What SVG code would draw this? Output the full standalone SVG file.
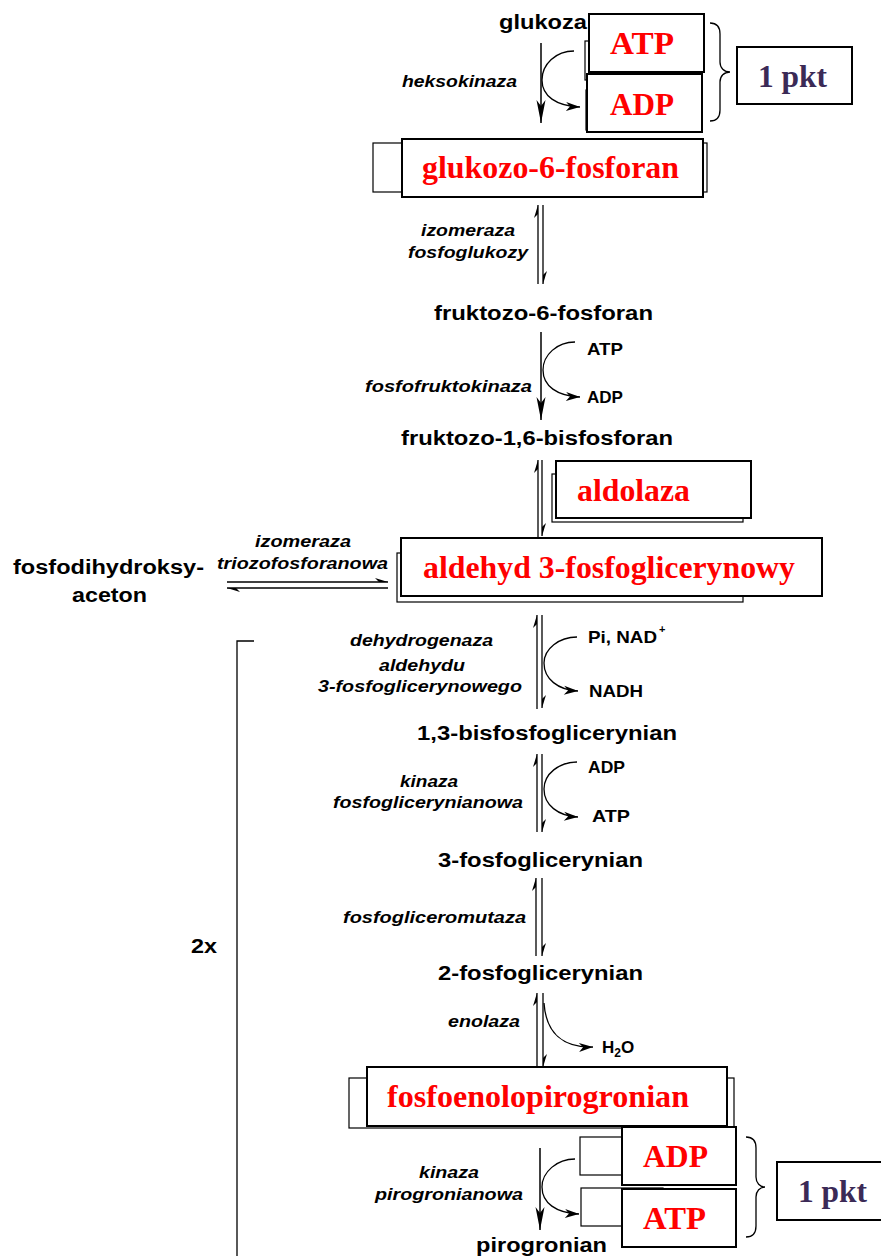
<svg xmlns="http://www.w3.org/2000/svg" width="881" height="1256" viewBox="0 0 881 1256">
<defs>
<style>
.m{font-family:"Liberation Sans",Arial,sans-serif;font-weight:bold;font-size:20px;fill:#000}
.e{font-family:"Liberation Sans",Arial,sans-serif;font-weight:bold;font-style:italic;font-size:16.5px;fill:#000}
.s{font-family:"Liberation Sans",Arial,sans-serif;font-weight:bold;font-size:16.5px;fill:#000}
.r{font-family:"Liberation Serif","Times New Roman",serif;font-weight:bold;font-size:32px;fill:#ff0000}
.p{font-family:"Liberation Serif","Times New Roman",serif;font-weight:bold;font-size:32px;fill:#3b2a56}
.fb{fill:#fff;stroke:#000;stroke-width:2}
.bb{fill:#fff;stroke:#000;stroke-width:1.2}
.ln{fill:none;stroke:#000;stroke-width:1.3}
.mn{fill:none;stroke:#000;stroke-width:1.5}
</style>
<marker id="big" viewBox="-24 -6 25 12" refX="0" refY="0" markerWidth="25" markerHeight="12" markerUnits="userSpaceOnUse" orient="auto">
<path d="M0,0 L-23,-4.5 L-17,0 L-23,4.5 Z" fill="#000"/>
</marker>
<marker id="hd" viewBox="-15 -6 16 12" refX="0" refY="0" markerWidth="16" markerHeight="12" markerUnits="userSpaceOnUse" orient="auto">
<path d="M0,0 L-14,-4.5 L-10,0 L-14,4.5 Z" fill="#000"/>
</marker>
<marker id="hp" viewBox="-15 -6 16 12" refX="0" refY="0" markerWidth="16" markerHeight="12" markerUnits="userSpaceOnUse" orient="auto">
<path d="M0,0 L-13,-4 L-9,0 Z" fill="#000"/>
</marker>
</defs>
<rect width="881" height="1256" fill="#fff"/>

<g id="connectors">
<path class="mn" d="M541,43 L541,123" marker-end="url(#big)"/>
<path class="ln" d="M574,51 C556,51 542,64 542,80 C542,96 556,106 580,107" marker-end="url(#hd)"/>
<path class="ln" d="M538,284 L538,205" marker-end="url(#hp)"/>
<path class="ln" d="M543,205 L543,284" marker-end="url(#hp)"/>
<path class="mn" d="M541,332 L541,420" marker-end="url(#big)"/>
<path class="ln" d="M575,342 C557,342 543,355 543,370 C543,386 557,396 580,397" marker-end="url(#hd)"/>
<path class="ln" d="M538,537 L538,460" marker-end="url(#hp)"/>
<path class="ln" d="M542,460 L542,536" marker-end="url(#hp)"/>
<path class="ln" d="M227,582 L388,582" marker-end="url(#hp)"/>
<path class="ln" d="M388,588 L227,588" marker-end="url(#hp)"/>
<path class="ln" d="M537,709 L537,615" marker-end="url(#hp)"/>
<path class="ln" d="M542,615 L542,708" marker-end="url(#hp)"/>
<path class="ln" d="M577,637 C559,637 544,649 544,663 C544,679 558,690 578,691" marker-end="url(#hd)"/>
<path class="ln" d="M537,832 L537,754" marker-end="url(#hp)"/>
<path class="ln" d="M542,754 L542,832" marker-end="url(#hp)"/>
<path class="ln" d="M577,762 C559,762 544,774 544,789 C544,805 558,816 578,817" marker-end="url(#hd)"/>
<path class="ln" d="M536,956 L536,878" marker-end="url(#hp)"/>
<path class="ln" d="M542,878 L542,956" marker-end="url(#hp)"/>
<path class="ln" d="M537,1067 L537,993" marker-end="url(#hp)"/>
<path class="ln" d="M543,993 L543,1067" marker-end="url(#hp)"/>
<path class="ln" d="M544,1003 C546,1033 563,1048 593,1047" marker-end="url(#hd)"/>
<path class="mn" d="M540,1148 L540,1230" marker-end="url(#big)"/>
<path class="ln" d="M575,1159 C557,1159 542,1172 542,1187 C542,1203 556,1213 579,1214" marker-end="url(#hd)"/>
<path class="ln" d="M710,23 C717,23 720,27 720,34 L720,62 C720,68 724,72 730,72 C724,72 720,76 720,82 L720,110 C720,117 717,121 710,121"/>
<path class="ln" d="M746,1137 C753,1137 756,1141 756,1148 L756,1177 C756,1183 760,1187 765,1187 C760,1187 756,1191 756,1197 L756,1226 C756,1233 753,1237 746,1237"/>
<path class="ln" d="M254,641 L237,641 L237,1256"/>
</g>

<g id="glukoza"><text class="m" x="499" y="29" textLength="88" lengthAdjust="spacingAndGlyphs">glukoza</text></g>
<g id="atp1"><rect class="bb" x="585" y="41" width="110" height="39"/><rect class="fb" x="589" y="14" width="115" height="58"/><text class="r" x="610" y="54" textLength="64" lengthAdjust="spacingAndGlyphs">ATP</text></g>
<g id="adp1"><rect class="bb" x="586" y="90" width="110" height="40"/><rect class="fb" x="587" y="74" width="115" height="58"/><text class="r" x="610" y="115" textLength="64" lengthAdjust="spacingAndGlyphs">ADP</text></g>
<g id="pkt1"><rect class="fb" x="737" y="47" width="115" height="57"/><text class="p" x="758" y="87" textLength="69" lengthAdjust="spacingAndGlyphs">1 pkt</text></g>
<g id="e-heksokinaza"><text class="e" x="402" y="87" textLength="115" lengthAdjust="spacingAndGlyphs">heksokinaza</text></g>
<g id="g6p"><rect class="bb" x="373" y="143" width="334" height="49"/><rect class="fb" x="402" y="139" width="301" height="58"/><text class="r" x="422" y="178" textLength="257" lengthAdjust="spacingAndGlyphs">glukozo-6-fosforan</text></g>
<g id="e-izomeraza1"><text class="e" x="421" y="236" textLength="94" lengthAdjust="spacingAndGlyphs">izomeraza</text><text class="e" x="408" y="258" textLength="120" lengthAdjust="spacingAndGlyphs">fosfoglukozy</text></g>
<g id="f6p"><text class="m" x="434" y="320" textLength="219" lengthAdjust="spacingAndGlyphs">fruktozo-6-fosforan</text></g>
<g id="atp2"><text class="s" x="587" y="355" textLength="36" lengthAdjust="spacingAndGlyphs">ATP</text><text class="s" x="587" y="403" textLength="36" lengthAdjust="spacingAndGlyphs">ADP</text></g>
<g id="e-pfk"><text class="e" x="365" y="392" textLength="167" lengthAdjust="spacingAndGlyphs">fosfofruktokinaza</text></g>
<g id="f16bp"><text class="m" x="401" y="445" textLength="272" lengthAdjust="spacingAndGlyphs">fruktozo-1,6-bisfosforan</text></g>
<g id="aldolaza"><rect class="bb" x="552" y="474" width="191" height="48"/><rect class="fb" x="556" y="461" width="195" height="57"/><text class="r" x="577" y="501" textLength="113" lengthAdjust="spacingAndGlyphs">aldolaza</text></g>
<g id="gap"><rect class="bb" x="397" y="553" width="346" height="49"/><rect class="fb" x="401" y="538" width="421" height="58"/><text class="r" x="423" y="578" textLength="372" lengthAdjust="spacingAndGlyphs">aldehyd 3-fosfoglicerynowy</text></g>
<g id="e-tpi"><text class="e" x="255" y="547" textLength="96" lengthAdjust="spacingAndGlyphs">izomeraza</text><text class="e" x="217" y="569" textLength="171" lengthAdjust="spacingAndGlyphs">triozofosforanowa</text></g>
<g id="dhap"><text class="m" x="13" y="574" textLength="191" lengthAdjust="spacingAndGlyphs">fosfodihydroksy-</text><text class="m" x="72" y="602" textLength="75" lengthAdjust="spacingAndGlyphs">aceton</text></g>
<g id="e-gapdh"><text class="e" x="350" y="646" textLength="143" lengthAdjust="spacingAndGlyphs">dehydrogenaza</text><text class="e" x="379" y="671" textLength="86" lengthAdjust="spacingAndGlyphs">aldehydu</text><text class="e" x="318" y="692" textLength="204" lengthAdjust="spacingAndGlyphs">3-fosfoglicerynowego</text></g>
<g id="nad"><text class="s" x="588" y="643" textLength="69" lengthAdjust="spacingAndGlyphs">Pi, NAD</text><text class="s" x="659" y="633" style="font-size:11px">+</text><text class="s" x="589" y="697" textLength="54" lengthAdjust="spacingAndGlyphs">NADH</text></g>
<g id="bpg"><text class="m" x="417" y="740" textLength="260" lengthAdjust="spacingAndGlyphs">1,3-bisfosfoglicerynian</text></g>
<g id="atp3"><text class="s" x="588" y="773" textLength="37" lengthAdjust="spacingAndGlyphs">ADP</text><text class="s" x="592" y="822" textLength="38" lengthAdjust="spacingAndGlyphs">ATP</text></g>
<g id="e-pgk"><text class="e" x="400" y="787" textLength="58" lengthAdjust="spacingAndGlyphs">kinaza</text><text class="e" x="333" y="808" textLength="190" lengthAdjust="spacingAndGlyphs">fosfoglicerynianowa</text></g>
<g id="pg3"><text class="m" x="438" y="867" textLength="205" lengthAdjust="spacingAndGlyphs">3-fosfoglicerynian</text></g>
<g id="e-pgm"><text class="e" x="343" y="923" textLength="183" lengthAdjust="spacingAndGlyphs">fosfogliceromutaza</text></g>
<g id="x2"><text class="m" x="191" y="953" textLength="26" lengthAdjust="spacingAndGlyphs">2x</text></g>
<g id="pg2"><text class="m" x="438" y="980" textLength="205" lengthAdjust="spacingAndGlyphs">2-fosfoglicerynian</text></g>
<g id="e-enolaza"><text class="e" x="448" y="1027" textLength="72" lengthAdjust="spacingAndGlyphs">enolaza</text></g>
<g id="h2o"><text class="s" x="602" y="1053" style="font-size:17px">H<tspan dy="4" style="font-size:12px">2</tspan><tspan dy="-4">O</tspan></text></g>
<g id="pep"><rect class="bb" x="349" y="1078" width="385" height="50"/><rect class="fb" x="367" y="1067" width="360" height="59"/><text class="r" x="387" y="1107" textLength="302" lengthAdjust="spacingAndGlyphs">fosfoenolopirogronian</text></g>
<g id="adp4"><rect class="bb" x="580" y="1137" width="100" height="38"/><rect class="fb" x="622" y="1127" width="114" height="58"/><text class="r" x="643" y="1167" textLength="65" lengthAdjust="spacingAndGlyphs">ADP</text></g>
<g id="atp4"><rect class="bb" x="581" y="1188" width="82" height="38"/><rect class="fb" x="622" y="1189" width="114" height="58"/><text class="r" x="643" y="1229" textLength="63" lengthAdjust="spacingAndGlyphs">ATP</text></g>
<g id="pkt2"><rect class="fb" x="777" y="1162" width="110" height="58"/><text class="p" x="798" y="1202" textLength="69" lengthAdjust="spacingAndGlyphs">1 pkt</text></g>
<g id="e-pk"><text class="e" x="419" y="1178" textLength="60" lengthAdjust="spacingAndGlyphs">kinaza</text><text class="e" x="375" y="1200" textLength="148" lengthAdjust="spacingAndGlyphs">pirogronianowa</text></g>
<g id="pyr"><text class="m" x="476" y="1252" textLength="131" lengthAdjust="spacingAndGlyphs">pirogronian</text></g>
</svg>
